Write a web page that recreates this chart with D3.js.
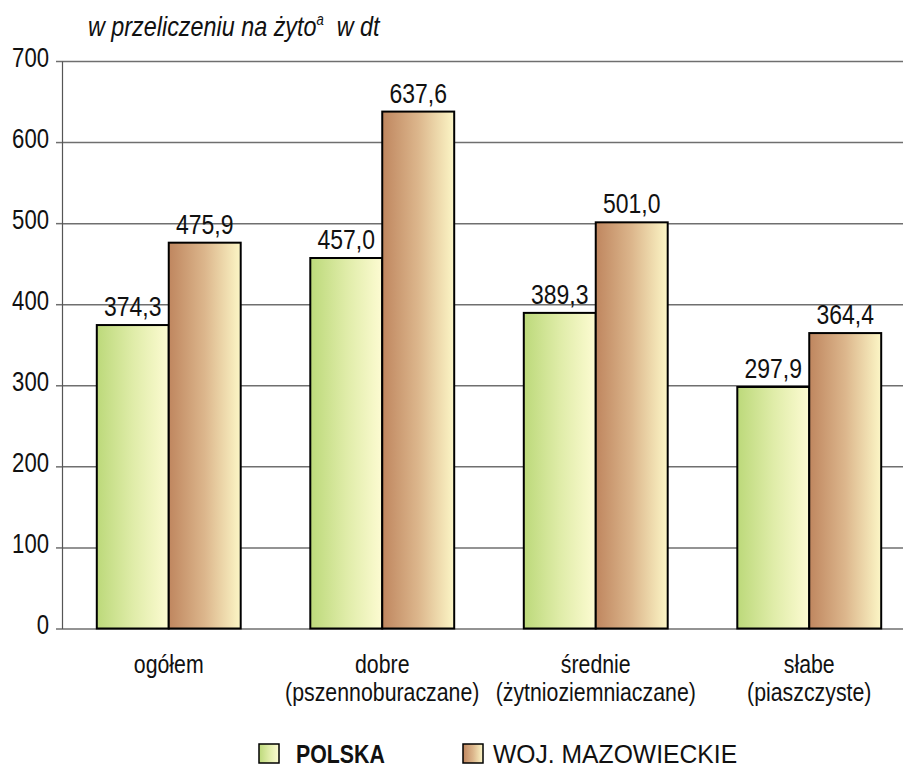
<!DOCTYPE html>
<html>
<head>
<meta charset="utf-8">
<script src="https://cdn.jsdelivr.net/npm/d3@7.9.0/dist/d3.min.js"></script>
<style>
  body { margin: 0; background: #fff; }
  svg text { font-family: "Liberation Sans", Arial, sans-serif; fill: #111; }
</style>
</head>
<body>
<svg id="chart" width="903" height="767"></svg>
<script>
const categories = [
  ['ogółem'],
  ['dobre', '(pszennoburaczane)'],
  ['średnie', '(żytnioziemniaczane)'],
  ['słabe', '(piaszczyste)'],
];
const seriesNames = ['POLSKA', 'WOJ. MAZOWIECKIE'];
const polska = [374.3, 457.0, 389.3, 297.9];
const mazowieckie = [475.9, 637.6, 501.0, 364.4];
const yTicks = [0, 100, 200, 300, 400, 500, 600, 700];

const width = 903;
const height = 767;
const margin = { top: 61, left: 62, bottom: 138, right: -13 };
const squeeze = 'scale(0.82,1)';  // narrow look of the original face

const svg = d3.select('#chart');

// gradients
const defs = svg.append('defs');
const gradients = [
  { id: 'gGreen', stops: ['#bcd97a', '#dfeca8', '#fdfbd2'] },
  { id: 'gBrown', stops: ['#bf865f', '#dcb68c', '#fcf6c6'] },
];
gradients.forEach(g => {
  const lg = defs.append('linearGradient').attr('id', g.id)
    .attr('x1', '0%').attr('x2', '100%').attr('y1', '0%').attr('y2', '0%');
  g.stops.forEach((c, i) => {
    lg.append('stop').attr('offset', (i / (g.stops.length - 1) * 100) + '%').attr('stop-color', c);
  });
});

const x0 = d3.scaleBand()
  .domain(d3.range(categories.length))
  .range([margin.left, width - margin.right])
  .paddingInner(0.326)
  .paddingOuter(0.163);

const x1 = d3.scaleBand()
  .domain([0, 1])
  .range([0, x0.bandwidth()]);

const y = d3.scaleLinear()
  .domain([0, 700])
  .range([height - margin.bottom - 0.5, margin.top]);

// gridlines
const grid = svg.append('g')
  .attr('transform', `translate(${margin.left},0)`)
  .call(d3.axisLeft(y).tickValues(yTicks).tickFormat('').tickSize(-(width - margin.left)).tickSizeOuter(0));
grid.select('.domain').remove();
grid.selectAll('.tick line').attr('stroke', '#6f6f6f').attr('stroke-width', 1.5);

// y axis
const yAxis = svg.append('g')
  .attr('transform', `translate(${margin.left},0)`)
  .call(d3.axisLeft(y).tickValues(yTicks).tickSize(6).tickSizeOuter(0));
yAxis.select('.domain').attr('stroke', '#555').attr('stroke-width', 1.2);
yAxis.selectAll('.tick line').attr('stroke', '#6f6f6f').attr('stroke-width', 1.5);
yAxis.selectAll('.tick text')
  .attr('x', null)
  .attr('dy', null)
  .attr('y', 5)
  .attr('transform', `translate(-13,0) ${squeeze}`)
  .attr('font-size', 27)
  .style('font-family', '"Liberation Sans", Arial, sans-serif')
  .attr('fill', '#111');

// bars
const rows = categories.map((c, i) => ({ i, values: [polska[i], mazowieckie[i]] }));
const fills = ['url(#gGreen)', 'url(#gBrown)'];

const groups = svg.append('g').selectAll('g')
  .data(rows)
  .join('g')
  .attr('transform', d => `translate(${x0(d.i)},0)`);

groups.selectAll('rect')
  .data(d => d.values.map((v, s) => ({ v, s })))
  .join('rect')
  .attr('x', d => x1(d.s))
  .attr('y', d => y(d.v))
  .attr('width', x1.bandwidth())
  .attr('height', d => y(0) - y(d.v))
  .attr('fill', d => fills[d.s])
  .attr('stroke', '#000')
  .attr('stroke-width', 2);

groups.selectAll('text.val')
  .data(d => d.values.map((v, s) => ({ v, s })))
  .join('text')
  .attr('class', 'val')
  .attr('transform', d => `translate(${x1(d.s) + x1.bandwidth() / 2},${y(d.v) - 9}) ${squeeze}`)
  .attr('text-anchor', 'middle')
  .attr('font-size', 28)
  .text(d => d.v.toFixed(1).replace('.', ','));

// category labels
const cat = svg.append('g').selectAll('text')
  .data(categories.map((c, i) => ({ c, i })))
  .join('text')
  .attr('text-anchor', 'middle')
  .attr('font-size', 26)
  .attr('transform', d => `translate(${x0(d.i) + x0.bandwidth() / 2},673) ${squeeze}`);
cat.selectAll('tspan')
  .data(d => d.c)
  .join('tspan')
  .attr('x', 0)
  .attr('y', (d, k) => k * 28)
  .text(d => d);

// title
const title = svg.append('text')
  .attr('transform', `translate(88,36) ${squeeze}`)
  .attr('font-size', 28.5)
  .attr('font-style', 'italic');
title.append('tspan').text('w przeliczeniu na żyto');
title.append('tspan').attr('font-size', 16).attr('dy', -11).text('a');
title.append('tspan').attr('dy', 11).text('\u00a0\u00a0w dt');

// legend
const legendX = [259, 463];
const legend = svg.append('g').selectAll('g')
  .data(seriesNames.map((n, s) => ({ n, s })))
  .join('g')
  .attr('transform', d => `translate(${legendX[d.s]},744)`);
legend.append('rect')
  .attr('width', 20).attr('height', 19)
  .attr('fill', d => fills[d.s])
  .attr('stroke', '#000').attr('stroke-width', 1.5);
legend.append('text')
  .attr('transform', d => d.s === 0
    ? `translate(37,19) ${squeeze}`
    : 'translate(30,19) scale(0.95,1)')
  .attr('font-size', 26)
  .attr('font-weight', d => d.s === 0 ? 'bold' : 'normal')
  .text(d => d.n);
</script>
</body>
</html>
